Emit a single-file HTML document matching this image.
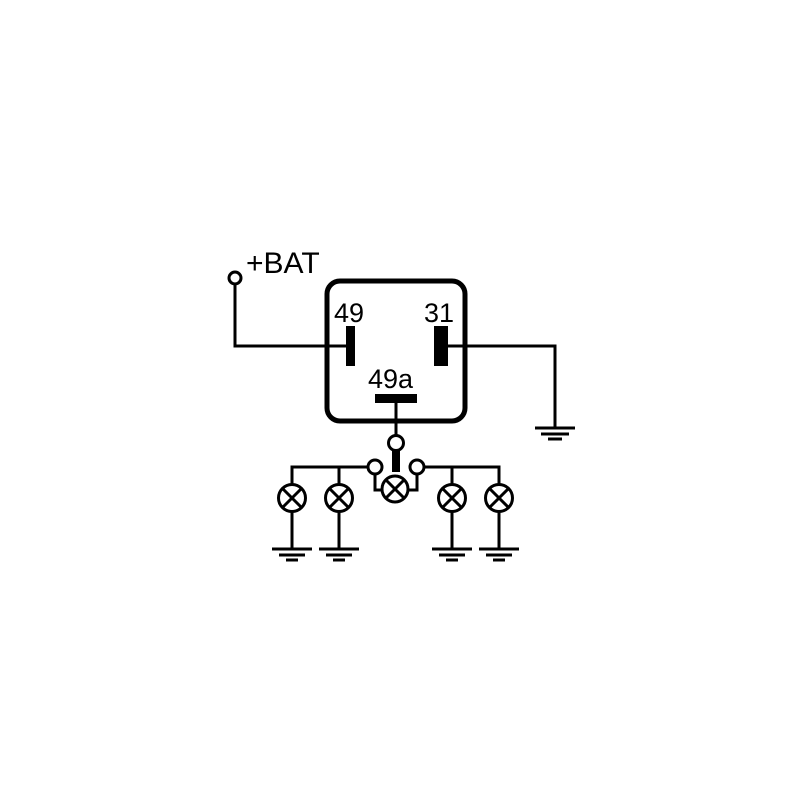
<!DOCTYPE html>
<html><head><style>body{margin:0;background:#fff}</style></head><body>
<svg width="800" height="800" viewBox="0 0 800 800" xmlns="http://www.w3.org/2000/svg">
<rect width="800" height="800" fill="#fff"/>
<g stroke="#000" fill="none" stroke-width="3">
<rect x="327" y="281" width="138" height="140" rx="13" stroke-width="5"/>
<polyline points="235,284 235,346 350,346"/>
<polyline points="441,346 555,346 555,428"/>
<line x1="535" y1="428" x2="575" y2="428"/><line x1="541" y1="434" x2="569" y2="434"/><line x1="548" y1="439" x2="562" y2="439"/>
<circle cx="235" cy="278" r="6" fill="#fff"/>
<line x1="396" y1="398" x2="396" y2="435"/>
<circle cx="396" cy="443" r="7.5" fill="#fff"/>
<polyline points="292,489 292,467 368,467"/>
<polyline points="339,467 339,484"/>
<polyline points="424,467 499,467 499,484"/>
<polyline points="452,467 452,484"/>
<polyline points="375,474 375,490 382,490"/>
<polyline points="417,474 417,490 409,490"/>
<circle cx="375" cy="467" r="7" fill="#fff"/>
<circle cx="417" cy="467" r="7" fill="#fff"/>
<circle cx="292" cy="498" r="13.5" fill="#fff"/>
<circle cx="339" cy="498" r="13.5" fill="#fff"/>
<circle cx="452" cy="498" r="13.5" fill="#fff"/>
<circle cx="499" cy="498" r="13.5" fill="#fff"/>
<circle cx="395" cy="489" r="13" fill="#fff"/>
<path d="M282.5,488.5l19,19M301.5,488.5l-19,19"/>
<path d="M329.5,488.5l19,19M348.5,488.5l-19,19"/>
<path d="M442.5,488.5l19,19M461.5,488.5l-19,19"/>
<path d="M489.5,488.5l19,19M508.5,488.5l-19,19"/>
<path d="M386,480l18,18M404,480l-18,18"/>
<line x1="292" y1="512" x2="292" y2="549"/><line x1="339" y1="512" x2="339" y2="549"/>
<line x1="452" y1="512" x2="452" y2="549"/><line x1="499" y1="512" x2="499" y2="549"/>
<path d="M272,549h40M279,555h26M286,560h12"/>
<path d="M319,549h40M326,555h26M333,560h12"/>
<path d="M432,549h40M439,555h26M446,560h12"/>
<path d="M479,549h40M486,555h26M493,560h12"/>
</g>
<rect x="346" y="326" width="9" height="40" fill="#000"/>
<rect x="434" y="326" width="14" height="40" fill="#000"/>
<rect x="375" y="394" width="42" height="9" fill="#000"/>
<rect x="392" y="450" width="8" height="22" fill="#000"/>
<g font-family="Liberation Sans, sans-serif" font-size="27" fill="#000">
<text x="246" y="273" font-size="30">+BAT</text>
<text x="334" y="322">49</text>
<text x="424" y="322">31</text>
<text x="368" y="388">49a</text>
</g>
</svg>
</body></html>
